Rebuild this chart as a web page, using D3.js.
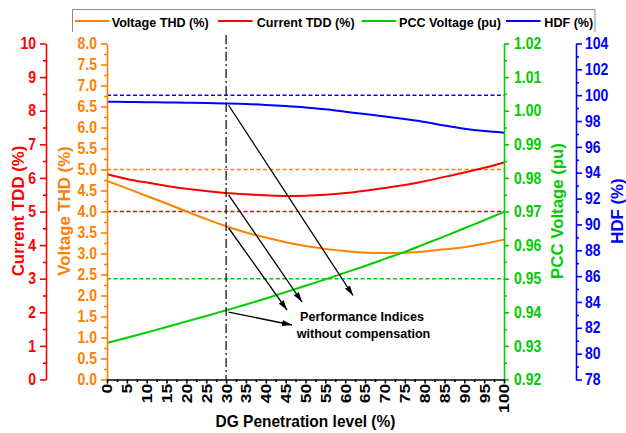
<!DOCTYPE html>
<html>
<head>
<meta charset="utf-8">
<script src="https://cdn.jsdelivr.net/npm/d3@7"></script>
<style>
  body { margin: 0; background: #fff; }
  svg text { font-family: "Liberation Sans", Arial, sans-serif; font-weight: bold; }
</style>
</head>
<body>
<svg id="chart" width="626" height="433"></svg>
<script>
// DG penetration levels (%)
const dgLevel = [0, 5, 10, 15, 20, 25, 30, 35, 40, 45, 50, 55, 60, 65, 70, 75, 80, 85, 90, 95, 100];

// Performance indices versus DG penetration
const voltageTHD = [4.73, 4.55, 4.37, 4.19, 4.00, 3.82, 3.65, 3.50, 3.38, 3.27, 3.18, 3.11, 3.06, 3.02, 3.01, 3.02, 3.05, 3.10, 3.15, 3.23, 3.33];
const currentTDD = [6.11, 5.97, 5.86, 5.76, 5.68, 5.61, 5.55, 5.51, 5.48, 5.46, 5.47, 5.50, 5.55, 5.62, 5.70, 5.79, 5.90, 6.03, 6.16, 6.30, 6.46];
const pccVoltage = [0.9309, 0.9324, 0.9340, 0.9356, 0.9373, 0.9389, 0.9406, 0.9423, 0.9441, 0.9460, 0.9479, 0.9498, 0.9518, 0.9538, 0.9559, 0.9580, 0.9603, 0.9626, 0.9650, 0.9674, 0.9699];
const hdf        = [99.49, 99.48, 99.46, 99.44, 99.42, 99.39, 99.36, 99.32, 99.25, 99.16, 99.05, 98.91, 98.72, 98.54, 98.35, 98.15, 97.93, 97.65, 97.40, 97.22, 97.10];

// Permissible limits (dashed reference lines)
const limitTHD = 5.0;
const limitTDD = 5.0;
const limitPCC = 0.95;
const limitHDF = 100;

// Highlighted penetration level
const markedLevel = 30;

// Tick values
const xTicks      = [0, 5, 10, 15, 20, 25, 30, 35, 40, 45, 50, 55, 60, 65, 70, 75, 80, 85, 90, 95, 100];
const thdTicks    = [0, 0.5, 1, 1.5, 2, 2.5, 3, 3.5, 4, 4.5, 5, 5.5, 6, 6.5, 7, 7.5, 8];
const tddTicks    = [0, 1, 2, 3, 4, 5, 6, 7, 8, 9, 10];
const pccTicks    = [0.92, 0.93, 0.94, 0.95, 0.96, 0.97, 0.98, 0.99, 1.00, 1.01, 1.02];
const hdfTicks    = [78, 80, 82, 84, 86, 88, 90, 92, 94, 96, 98, 100, 102, 104];

const colTHD = "#ff8000", colTDD = "#ff0000", colPCC = "#00cc00", colHDF = "#0000ff";

const svg = d3.select("#chart");

const x    = d3.scaleLinear().domain([0, 100]).range([107, 504]);
const yTHD = d3.scaleLinear().domain([0, 8]).range([379.5, 43.5]);
const yTDD = d3.scaleLinear().domain([0, 10]).range([379.5, 43.5]);
const yPCC = d3.scaleLinear().domain([0.92, 1.02]).range([379.5, 43.5]);
const yHDF = d3.scaleLinear().domain([78, 104]).range([379.5, 43.5]);

// minor ticks halfway between majors
const halves = t => t.slice(1).map((v, i) => (v + t[i]) / 2);

function drawAxis(axisFn, scale, majors, fmt, tx, ty, color, majorLen, minorLen, pad, stretch) {
  const g = svg.append("g").attr("transform", `translate(${tx},${ty})`);
  const minor = g.append("g")
    .call(axisFn(scale).tickValues(halves(majors)).tickSize(minorLen).tickFormat("").tickSizeOuter(0));
  minor.select(".domain").remove();
  const major = g.append("g")
    .call(axisFn(scale).tickValues(majors).tickSize(majorLen).tickPadding(pad).tickFormat(fmt).tickSizeOuter(0));
  g.selectAll("g").attr("font-size", null).attr("font-family", null);
  g.selectAll("path, line").attr("stroke", color).attr("stroke-width", 1.6);
  major.selectAll("text").attr("fill", color)
    .style("font-size", "14px")
    .attr("transform", `scale(1,${stretch})`);
  return major;
}

// Dashed limit lines
const limits = [
  [yHDF(limitHDF), colHDF],
  [yTHD(limitTHD), colTHD],
  [yTDD(limitTDD), colTDD],
  [yPCC(limitPCC), colPCC]
];
svg.append("g").selectAll("line").data(limits).join("line")
  .attr("x1", x(0)).attr("x2", x(100))
  .attr("y1", d => d[0]).attr("y2", d => d[0])
  .attr("stroke", d => d[1]).attr("stroke-width", 1.5)
  .attr("stroke-dasharray", "4,2.5");

// Curves
const series = [
  [voltageTHD, yTHD, colTHD],
  [currentTDD, yTDD, colTDD],
  [pccVoltage, yPCC, colPCC],
  [hdf, yHDF, colHDF]
];
series.forEach(([vals, ys, col]) => {
  const line = d3.line().x((d, i) => x(dgLevel[i])).y(d => ys(d)).curve(d3.curveMonotoneX);
  svg.append("path").datum(vals)
    .attr("d", line).attr("fill", "none")
    .attr("stroke", col).attr("stroke-width", 2);
});

// Axes
drawAxis(d3.axisLeft, yTDD, tddTicks, d3.format("d"), 46, 0, colTDD, 6, 3, 4, 1.15);
drawAxis(d3.axisLeft, yTHD, thdTicks, d3.format(".1f"), 107, 0, colTHD, 6, 3, 4, 1.15);
drawAxis(d3.axisRight, yPCC, pccTicks, d3.format(".2f"), 504, 0, colPCC, 5, 3, 5, 1.15);
drawAxis(d3.axisRight, yHDF, hdfTicks, d3.format("d"), 576, 0, colHDF, 6, 3, 3, 1.15);
const xAx = drawAxis(d3.axisBottom, x, xTicks, d3.format("d"), 0, 379.5, "#000", 4, 2.5, 0, 1.15);
xAx.selectAll("text")
  .attr("y", 0).attr("x", -3.5).attr("dy", "0.35em")
  .attr("text-anchor", "end")
  .attr("transform", "scale(1,1.25) rotate(-90)");

// Axis titles
function title(txt, tx, ty, rot, color, size, stretch) {
  svg.append("text")
    .attr("transform", `translate(${tx},${ty}) scale(1,${stretch})` + (rot ? " rotate(-90)" : ""))
    .attr("text-anchor", "middle")
    .attr("fill", color)
    .style("font-size", size + "px")
    .text(txt);
}
title("Current TDD (%)", 24, 211, true, colTDD, 16, 1.05);
title("Voltage THD (%)", 69.5, 211, true, colTHD, 16, 1.05);
title("PCC Voltage (pu)", 563, 211, true, colPCC, 16, 1.05);
title("HDF (%)", 622.5, 211, true, colHDF, 16, 1.05);
title("DG Penetration level (%)", 305.5, 427, false, "#000", 15.5, 1.1);

// Marked penetration level (dash-dot)
svg.append("line")
  .attr("x1", x(markedLevel)).attr("x2", x(markedLevel))
  .attr("y1", 35).attr("y2", 379.5)
  .attr("stroke", "#000").attr("stroke-width", 1.2)
  .attr("stroke-dasharray", "9,3,2,3");

// Arrows to annotation
svg.append("defs").append("marker")
  .attr("id", "arrowhead").attr("viewBox", "0 0 10 6")
  .attr("refX", 10).attr("refY", 3)
  .attr("markerWidth", 10).attr("markerHeight", 6)
  .attr("markerUnits", "userSpaceOnUse").attr("orient", "auto")
  .append("path").attr("d", "M0,0 L10,3 L0,6 Z").attr("fill", "#000");

const idx = dgLevel.indexOf(markedLevel);
const noteX = 362, noteY = 320.5;
const arrows = [
  [yHDF(hdf[idx]), noteX - 9, noteY - 25],
  [yTDD(currentTDD[idx]), noteX - 60, noteY - 18.5],
  [yTHD(voltageTHD[idx]), noteX - 75, noteY - 10.5],
  [yPCC(pccVoltage[idx]), noteX - 70, noteY + 4.5]
];
svg.append("g").selectAll("line").data(arrows).join("line")
  .attr("x1", x(markedLevel) + 2.5).attr("y1", d => d[0] + 1.8)
  .attr("x2", d => d[1]).attr("y2", d => d[2])
  .attr("stroke", "#000").attr("stroke-width", 1.3)
  .attr("marker-end", "url(#arrowhead)");

const note = svg.append("text").attr("text-anchor", "middle").attr("fill", "#000").style("font-size", "12.6px");
note.append("tspan").attr("x", noteX).attr("y", noteY).text("Performance Indices");
note.append("tspan").attr("x", noteX + 1.5).attr("y", noteY + 17.5).text("without compensation");

// Legend (frame open at the bottom)
const legendItems = [
  ["Voltage THD (%)", colTHD, 75, 111.7],
  ["Current TDD (%)", colTDD, 218, 256.7],
  ["PCC Voltage (pu)", colPCC, 361.7, 399],
  ["HDF (%)", colHDF, 506, 544.3]
];
const lg = svg.append("g");
lg.append("path").attr("d", "M72.5,32 V9.5 H595 V32")
  .attr("fill", "none").attr("stroke", "#8c8c8c").attr("stroke-width", 1);
legendItems.forEach(([label, col, lx, tx]) => {
  lg.append("line").attr("x1", lx).attr("x2", lx + 34.5).attr("y1", 21).attr("y2", 21)
    .attr("stroke", col).attr("stroke-width", 2);
  lg.append("text").attr("x", tx).attr("y", 26.8).attr("fill", "#000")
    .style("font-size", "12.6px").text(label);
});
</script>
</body>
</html>
